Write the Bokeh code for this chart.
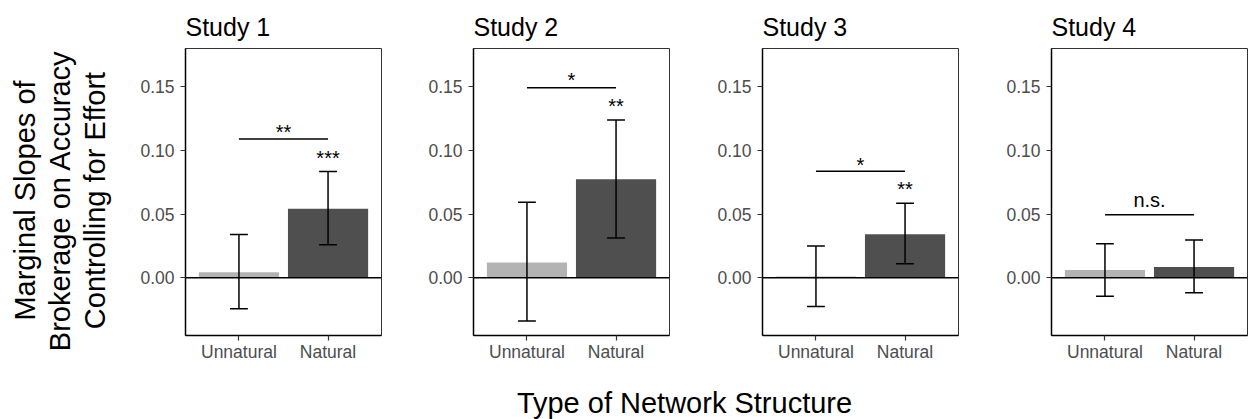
import math
from bokeh.plotting import figure
from bokeh.layouts import row, column
from bokeh.models import Range1d, FixedTicker, PrintfTickFormatter, Span, ColumnDataSource
from bokeh.core.properties import value
from bokeh.embed import file_html
from bokeh.resources import INLINE

# ---------------- data ----------------
studies = ["Study 1", "Study 2", "Study 3", "Study 4"]
categories = ["Unnatural", "Natural"]

unnatural_est = [0.0044, 0.0120, 0.0010, 0.0060]
unnatural_lo = [-0.0244, -0.0341, -0.0226, -0.0145]
unnatural_hi = [0.0339, 0.0593, 0.0249, 0.0268]

natural_est = [0.0543, 0.0774, 0.0341, 0.0084]
natural_lo = [0.0260, 0.0312, 0.0110, -0.0118]
natural_hi = [0.0835, 0.1240, 0.0585, 0.0296]

natural_sig = ["***", "**", "**", ""]
natural_sig_y = [0.0871, 0.1280, 0.0624, 0.0]
diff_sig = ["**", "*", "*", "n.s."]
bracket_y = [0.1090, 0.1493, 0.0837, 0.0496]
diff_sig_y = [0.1078, 0.1482, 0.0818, 0.0543]

y_ticks = [0.0, 0.05, 0.10, 0.15]
y_min, y_max = -0.0454, 0.1802

y_label_lines = ["Marginal Slopes of", "Brokerage on Accuracy", "Controlling for Effort"]
x_label = "Type of Network Structure"

# ---------------- styling ----------------
FONT = "Liberation Sans"
bar_colors = ["#b3b3b3", "#4f4f4f"]
CAP = 0.1
BAR_W = 0.9
PANEL_H = 375
SIG_OFFSET = -9  # screen px


xpos = [i + 1 for i in range(len(categories))]


def make_panel(i, width, left, right):
    p = figure(width=width, height=PANEL_H,
               x_range=Range1d(0.4, len(categories) + 0.6),
               y_range=Range1d(y_min, y_max),
               output_backend="svg", toolbar_location=None,
               min_border_left=left, min_border_right=right,
               min_border_top=48, min_border_bottom=40,
               title=studies[i])
    p.title.text_font = FONT
    p.title.text_font_size = "25px"
    p.title.text_font_style = "normal"
    p.title.text_color = "black"
    p.title.align = "left"
    p.title.offset = 0
    if "standoff" in p.title.properties():
        p.title.standoff = 16

    p.xgrid.visible = False
    p.ygrid.visible = False
    p.outline_line_color = "#333333"
    p.outline_line_width = 1
    p.background_fill_color = "white"
    p.border_fill_color = "white"

    for ax in (p.xaxis[0], p.yaxis[0]):
        ax.axis_line_color = "black"
        ax.axis_line_width = 1.5
        ax.major_tick_line_color = "#333333"
        ax.major_tick_line_width = 1.2
        ax.major_tick_out = 5
        ax.major_tick_in = 0
        ax.minor_tick_line_color = None
        ax.major_label_text_font = FONT
        ax.major_label_text_font_size = "17.5px"
        ax.major_label_text_color = "#4d4d4d"

    p.xaxis.ticker = FixedTicker(ticks=xpos)
    p.xaxis.major_label_overrides = {x: c for x, c in zip(xpos, categories)}
    p.xaxis.major_label_standoff = 1
    p.yaxis.ticker = FixedTicker(ticks=y_ticks)
    p.yaxis.formatter = PrintfTickFormatter(format="%.2f")
    p.yaxis.major_label_standoff = 6

    est = [unnatural_est[i], natural_est[i]]
    lo = [unnatural_lo[i], natural_lo[i]]
    hi = [unnatural_hi[i], natural_hi[i]]
    src = ColumnDataSource(dict(x=xpos, top=est, lo=lo, hi=hi, color=bar_colors,
                                xl=[x - CAP for x in xpos], xr=[x + CAP for x in xpos]))

    p.vbar(x="x", top="top", bottom=0, width=BAR_W, fill_color="color",
           line_color=None, source=src)

    p.add_layout(Span(location=0, dimension="width", line_color="black", line_width=1.5))

    p.segment(x0="x", y0="lo", x1="x", y1="hi", line_color="black", line_width=1.5, source=src)
    p.segment(x0="xl", y0="hi", x1="xr", y1="hi", line_color="black", line_width=1.5, source=src)
    p.segment(x0="xl", y0="lo", x1="xr", y1="lo", line_color="black", line_width=1.5, source=src)

    # comparison bracket
    p.segment(x0=[xpos[0]], y0=[bracket_y[i]], x1=[xpos[1]], y1=[bracket_y[i]],
              line_color="black", line_width=1.5)
    p.text(x=[(xpos[0] + xpos[1]) / 2], y=[diff_sig_y[i]], text=[diff_sig[i]],
           text_font=value(FONT), text_font_size="20px", text_color="black",
           text_align="center", text_baseline="alphabetic", y_offset=SIG_OFFSET)
    if natural_sig[i]:
        p.text(x=[xpos[1]], y=[natural_sig_y[i]], text=[natural_sig[i]],
               text_font=value(FONT), text_font_size="20px", text_color="black",
               text_align="center", text_baseline="alphabetic", y_offset=SIG_OFFSET)
    return p


p1 = make_panel(0, 271, 65, 10)
p2 = make_panel(1, 288, 82, 10)
p3 = make_panel(2, 289, 83, 10)
p4 = make_panel(3, 280, 83, 1)

# y-axis label area
ylab = figure(width=120, height=419, x_range=Range1d(0, 120), y_range=Range1d(0, 419),
              output_backend="svg", toolbar_location=None, min_border=0,
              x_axis_type=None, y_axis_type=None)
ylab.outline_line_color = None
ylab.xgrid.visible = False
ylab.ygrid.visible = False
ylab.text(x=[24, 59, 94], y=[219, 219, 219], text=y_label_lines, angle=math.pi / 2,
          text_font=value(FONT), text_font_size="29px", text_color="black",
          text_align="center", text_baseline="alphabetic")

# x-axis label area
xlab = figure(width=1128, height=44, x_range=Range1d(0, 1128), y_range=Range1d(0, 44),
              output_backend="svg", toolbar_location=None, min_border=0,
              x_axis_type=None, y_axis_type=None)
xlab.outline_line_color = None
xlab.xgrid.visible = False
xlab.ygrid.visible = False
xlab.text(x=[564], y=[17], text=[x_label],
          text_font=value(FONT), text_font_size="29px", text_color="black",
          text_align="center", text_baseline="alphabetic")

layout = row(ylab, column(row(p1, p2, p3, p4), xlab))

open("out.html", "w").write(file_html(layout, INLINE))
